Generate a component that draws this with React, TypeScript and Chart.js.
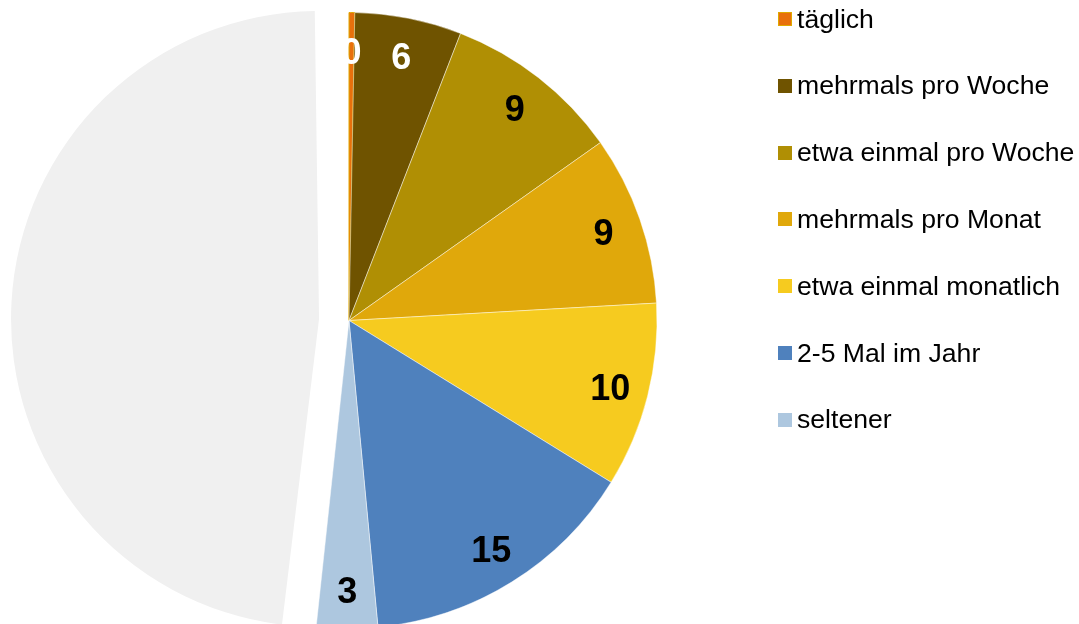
import React, { useEffect, useRef } from "react";
import { Chart, registerables } from "chart.js";

Chart.register(...registerables);

const categories = [
  "täglich",
  "mehrmals pro Woche",
  "etwa einmal pro Woche",
  "mehrmals pro Monat",
  "etwa einmal monatlich",
  "2-5 Mal im Jahr",
  "seltener",
  "",
];
const values = [0.3, 5.6, 9.3, 8.9, 9.7, 14.7, 3.2, 48.3];
const sliceColors = [
  "#E8700C",
  "#6F5300",
  "#B08F04",
  "#E0A80B",
  "#F6CB1F",
  "#4F81BD",
  "#ADC7DF",
  "#F0F0F0",
];
const sliceBorders = [
  "#E0A800",
  "rgba(255,255,255,0.45)",
  "rgba(255,255,255,0.45)",
  "rgba(255,255,255,0.45)",
  "rgba(255,255,255,0.45)",
  "rgba(255,255,255,0.45)",
  "rgba(255,255,255,0.45)",
  "rgba(255,255,255,0)",
];
const labelColors = ["#FFFFFF", "#FFFFFF", "#000000", "#000000", "#000000", "#000000", "#000000", "#000000"];
// Chart.js translates an arc by offset/4, so 120 moves the slice out by 30px
const sliceOffsets = [0, 0, 0, 0, 0, 0, 0, 120];
const PIE_RADIUS = 308;

const FONT = '"Liberation Sans", Arial, sans-serif';

const explodeFixPlugin = {
  id: "explodeFix",
  beforeDatasetsDraw(chart: any) {
    const meta = chart.getDatasetMeta(0);
    meta.data.forEach((arc: any, i: number) => {
      const off = (sliceOffsets[i] || 0) / 4;
      if (!off) return;
      // keep the exploded slice at the same radius as the rest of the pie
      const fix = 1 - Math.sin(Math.min(Math.PI, arc.circumference || 0));
      arc.outerRadius = PIE_RADIUS - off * fix;
    });
  },
};

const sliceLabelPlugin = {
  id: "sliceLabels",
  afterDatasetsDraw(chart: any) {
    const ctx = chart.ctx;
    const meta = chart.getDatasetMeta(0);
    ctx.save();
    ctx.font = `bold 36px ${FONT}`;
    ctx.textAlign = "center";
    ctx.textBaseline = "middle";
    meta.data.forEach((arc: any, i: number) => {
      if (!categories[i]) return;
      const p = arc.getProps(["x", "y", "startAngle", "endAngle"], true);
      const mid = (p.startAngle + p.endAngle) / 2;
      const r = PIE_RADIUS * 0.875;
      ctx.fillStyle = labelColors[i];
      ctx.fillText(String(Math.round(values[i])), p.x + Math.cos(mid) * r, p.y + Math.sin(mid) * r + 3);
    });
    ctx.restore();
  },
};

export default function App() {
  const ref = useRef<HTMLCanvasElement | null>(null);
  useEffect(() => {
    if (!ref.current) return;
    const chart = new Chart(ref.current, {
      type: "pie",
      data: {
        labels: categories,
        datasets: [
          {
            data: values,
            backgroundColor: sliceColors,
            borderColor: sliceBorders,
            borderWidth: 1,
            offset: sliceOffsets,
            radius: PIE_RADIUS,
            clip: false,
          } as any,
        ],
      },
      options: {
        animation: false,
        responsive: false,
        layout: { padding: { left: 0, top: 17, right: 381, bottom: 0 } },
        plugins: {
          legend: { display: false },
          tooltip: { enabled: false },
        },
      },
      plugins: [explodeFixPlugin, sliceLabelPlugin],
    });
    return () => chart.destroy();
  }, []);

  const legendItems = categories
    .map((c, i) => ({ c, i }))
    .filter((d) => d.c);

  return (
    <div style={{ position: "fixed", left: 0, top: 0, width: 1079, height: 624, background: "#fff", overflow: "hidden" }}>
      <canvas ref={ref} width={1079} height={624} style={{ position: "absolute", left: 0, top: 0, width: 1079, height: 624 }} />
      {legendItems.map(({ c, i }, k) => (
        <div
          key={c}
          style={{
            position: "absolute",
            left: 778,
            top: 19 + k * 66.8 - 15,
            height: 30,
            display: "flex",
            alignItems: "center",
            whiteSpace: "nowrap",
            fontFamily: FONT,
            fontSize: 26.6,
            color: "#000",
          }}
        >
          <span
            style={{
              display: "inline-block",
              width: 14,
              height: 14,
              boxSizing: "border-box",
              background: sliceColors[i],
              border: i === 0 ? `1px solid ${sliceBorders[0]}` : "none",
              marginRight: 5,
            }}
          />
          <span>{c}</span>
        </div>
      ))}
    </div>
  );
}
